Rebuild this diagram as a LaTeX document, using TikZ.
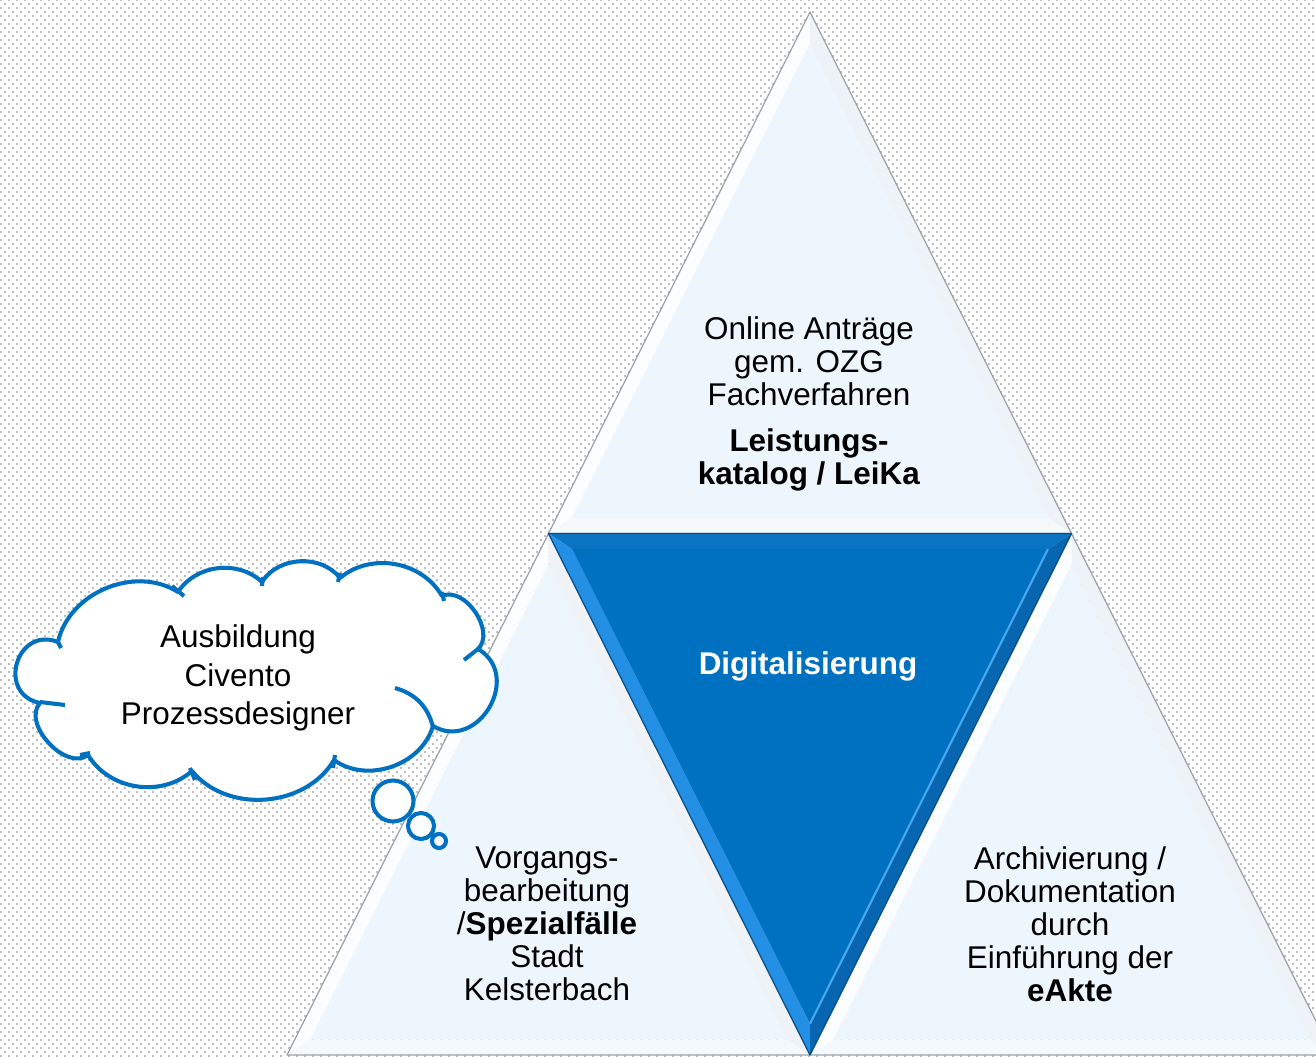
\documentclass[tikz,border=0pt]{standalone}
\usepackage{fontspec}
\setmainfont{Liberation Sans}
\usepackage{xcolor}
\definecolor{mainBlue}{HTML}{0070C0}
\definecolor{blueTop}{HTML}{0B74C2}
\definecolor{blueLeft}{HTML}{2390E6}
\definecolor{blueRight}{HTML}{0866B0}
\definecolor{blueGlint}{HTML}{45A8F0}
\definecolor{blueDark}{HTML}{0A4F86}
\definecolor{triFill}{HTML}{EEF6FD}
\definecolor{lightLeft}{HTML}{FBFDFF}
\definecolor{lightRight}{HTML}{EFF3F7}
\definecolor{lightBase}{HTML}{F5F9FC}
\definecolor{edgeGrey}{HTML}{9AA2AA}
\definecolor{dotGrey}{HTML}{BDBDBD}
\usepackage{tikz}
\usetikzlibrary{positioning,calc,patterns}
\pgfdeclarepatternformonly{bgDots}{\pgfqpoint{0pt}{0pt}}{\pgfqpoint{4.552pt}{4.552pt}}{\pgfqpoint{4.552pt}{4.552pt}}{%
  \pgfpathrectangle{\pgfqpoint{0pt}{0pt}}{\pgfqpoint{1.1pt}{1.1pt}}%
  \pgfpathrectangle{\pgfqpoint{2.276pt}{2.276pt}}{\pgfqpoint{1.1pt}{1.1pt}}%
  \pgfusepath{fill}%
}
\newcommand\areaFont{\fontsize{17.9}{18.8}\selectfont}
\newcommand\cloudFont{\fontsize{17.9}{21.9}\selectfont}
\newcommand\bevelRatio{0.91}
\tikzset{
  triEdge/.style={
    draw=edgeGrey,
    line width=0.7pt,
    line join=round
 },
  areaText/.style={
    align=center,
    font=\areaFont,
    inner sep=0pt
 },
  centerText/.style={
    font=\areaFont\bfseries,
    text=white,
    inner sep=0pt
 },
  cloudLine/.style={
    draw=mainBlue,
    line width=2.3pt,
    line join=round
 },
  cloudText/.style={
    align=center,
    font=\cloudFont,
    inner sep=0pt
 },
  bubble/.style={
    circle,
    draw=mainBlue,
    fill=white,
    line width=2.3pt,
    inner sep=0pt
 }
}
\begin{document}
\begin{tikzpicture}[x=0.02cm, y=-0.02cm]
            \useasboundingbox (0,0) rectangle (1316,1057);
            \clip (0,0) rectangle (1316,1057);
            % dotted background
            \fill[white] (0,0) rectangle (1316,1057);
            \fill[pattern=bgDots, pattern color=dotGrey] (0,0) rectangle (1316,1057);

            % corners of the big triangle
            \coordinate (apex) at (810,12);
            \coordinate (baseL) at (287,1055);
            \coordinate (baseR) at (1333,1055);
            \coordinate (midL) at ($(apex)!0.5!(baseL)$);
            \coordinate (midR) at ($(apex)!0.5!(baseR)$);
            \coordinate (midB) at ($(baseL)!0.5!(baseR)$);

            % light triangles with bevelled edges
            \foreach \a/\b/\c/\n in {apex/midL/midR/top, midL/baseL/midB/left, midR/midB/baseR/right}{
              \coordinate (c\n) at (barycentric cs:\a=1,\b=1,\c=1);
              \coordinate (\n-a) at ($(c\n)!\bevelRatio!(\a)$);
              \coordinate (\n-b) at ($(c\n)!\bevelRatio!(\b)$);
              \coordinate (\n-c) at ($(c\n)!\bevelRatio!(\c)$);
              \fill[lightLeft] (\a) -- (\b) -- (\n-b) -- (\n-a) -- cycle;
              \fill[lightRight] (\a) -- (\c) -- (\n-c) -- (\n-a) -- cycle;
              \fill[lightBase] (\b) -- (\c) -- (\n-c) -- (\n-b) -- cycle;
              \fill[triFill] (\n-a) -- (\n-b) -- (\n-c) -- cycle;
              \draw[triEdge] (\a) -- (\b) -- (\c) -- cycle;
            }

            % blue triangle
            \coordinate (cmid) at (barycentric cs:midL=1,midR=1,midB=1);
            \coordinate (mid-l) at ($(cmid)!\bevelRatio!(midL)$);
            \coordinate (mid-r) at ($(cmid)!\bevelRatio!(midR)$);
            \coordinate (mid-b) at ($(cmid)!\bevelRatio!(midB)$);
            \fill[blueTop] (midL) -- (midR) -- (mid-r) -- (mid-l) -- cycle;
            \fill[blueLeft] (midL) -- (midB) -- (mid-b) -- (mid-l) -- cycle;
            \fill[blueRight] (midR) -- (midB) -- (mid-b) -- (mid-r) -- cycle;
            \fill[mainBlue] (mid-l) -- (mid-r) -- (mid-b) -- cycle;
            \draw[blueGlint, line width=1.2pt] (mid-r) -- (mid-b);
            \draw[triEdge, draw=blueDark] (midL) -- (midR) -- (midB) -- cycle;

            % texts
            \node[areaText] (online) at (809,404) {Online Anträge\\gem. OZG\\Fachverfahren\\[7.4pt]\textbf{Leistungs-}\\\textbf{katalog / LeiKa}};
            \node[areaText] (vorgang) at (547,924) {Vorgangs-\\bearbeitung\\/\textbf{Spezialfälle}\\Stadt\\Kelsterbach};
            \node[areaText] (archiv) at (1070,924) {Archivierung /\\Dokumentation\\durch\\Einführung der\\\textbf{eAkte}};
            \node[centerText] (digital) at (808,666) {Digitalisierung};

            % cloud
            \path[cloudLine, fill=white] (58,642) to[bend left=55] (178,592) to[bend left=50] (262,582)
              to[bend left=55] (340,578) to[bend left=50] (442,596) to[bend left=80] (478,649)
              to[bend left=90, looseness=1.5] (433,726) to[bend left=55] (334,760) to[bend left=55] (192,771)
              to[bend left=50] (88,755) to[bend left=85] (40,703) to[bend left=95, looseness=1.8] cycle;
            \foreach \xa/\ya/\xb/\yb in {57/640/61/648, 172/586/184/596, 263/577/262/586, 340/573/338/582,
              442/592/444/601, 478/649/464/660, 335/755/333/768, 190/768/195/780, 80/755/90/753, 40/702/65/705}
              \draw[cloudLine] (\xa,\ya) -- (\xb,\yb);
            \draw[cloudLine] (395,688) to[bend left=30] (433,727);
            \node[cloudText] (cloud) at (238,678) {Ausbildung\\Civento\\Prozessdesigner};

            % thought bubbles
            \node[bubble, minimum size=0.82cm] (bubbleA) at (393,801) {};
            \node[bubble, minimum size=0.52cm] (bubbleB) at (421,826) {};
            \node[bubble, minimum size=0.28cm] (bubbleC) at (439,841) {};
        \end{tikzpicture}
\end{document}
